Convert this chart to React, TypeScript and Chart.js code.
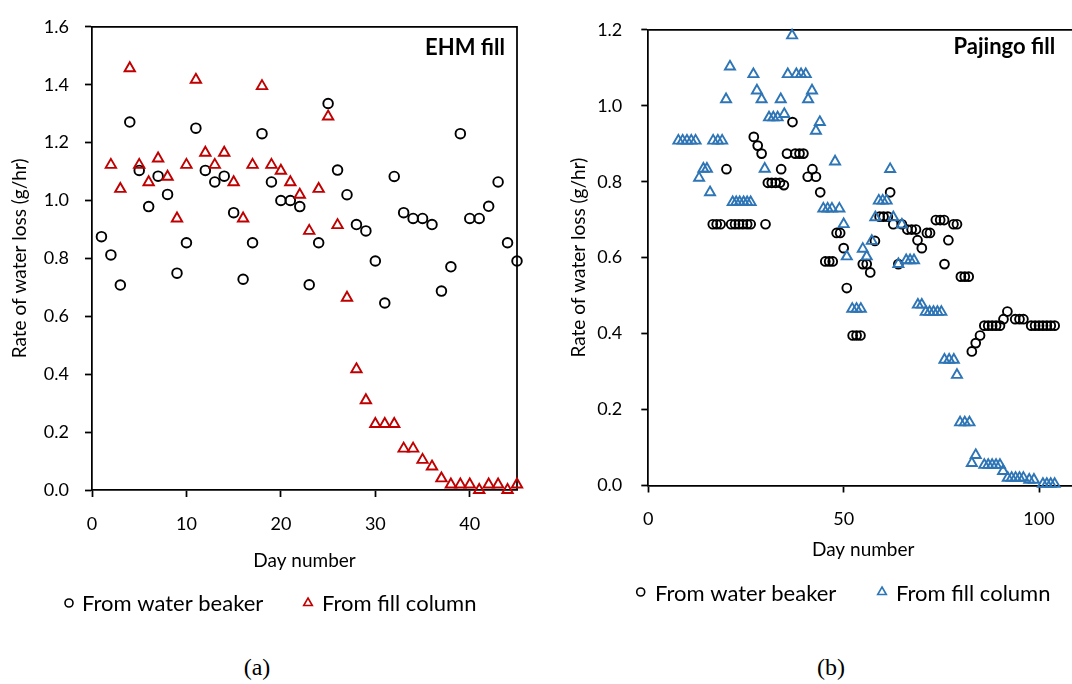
import React, { useEffect, useRef } from "react";
import { Chart, registerables } from "chart.js";
import { drawPoint } from "chart.js/helpers";

Chart.register(...registerables);

// ---------- Panel (a): EHM fill ----------
const ehmBeakerDay = [
  1, 2, 3, 4, 5, 6, 7, 8, 9, 10, 11, 12, 13, 14, 15, 16, 17, 18, 19, 20, 21, 22, 23,
  24, 25, 26, 27, 28, 29, 30, 31, 32, 33, 34, 35, 36, 37, 38, 39, 40, 41, 42, 43, 44, 45,
];
const ehmBeakerRate = [
  0.875, 0.812, 0.708, 1.271, 1.104, 0.979, 1.084, 1.021, 0.749, 0.854,
  1.25, 1.104, 1.064, 1.084, 0.958, 0.728, 0.854, 1.231, 1.064, 1.0,
  1.0, 0.979, 0.709, 0.854, 1.335, 1.105, 1.02, 0.917, 0.895, 0.791,
  0.646, 1.083, 0.958, 0.938, 0.938, 0.917, 0.687, 0.771, 1.231, 0.938,
  0.938, 0.98, 1.064, 0.854, 0.791,
];
const ehmFillDay = [
  2, 3, 4, 5, 6, 7, 8, 9, 10, 11, 12, 13, 14, 15, 16, 17, 18, 19, 20, 21, 22, 23, 24,
  25, 26, 27, 28, 29, 30, 31, 32, 33, 34, 35, 36, 37, 38, 39, 40, 41, 42, 43, 44, 45,
];
const ehmFillRate = [
  1.123, 1.04, 1.457, 1.123, 1.063, 1.145, 1.082, 0.938, 1.123, 1.417,
  1.165, 1.123, 1.165, 1.063, 0.938, 1.123, 1.395, 1.123, 1.103, 1.063,
  1.02, 0.895, 1.04, 1.29, 0.915, 0.664, 0.417, 0.31, 0.228, 0.228,
  0.228, 0.143, 0.143, 0.104, 0.081, 0.04, 0.019, 0.019, 0.019, 0.0,
  0.019, 0.019, 0.0, 0.019,
];
const ehmXTicks = [0, 10, 20, 30, 40];
const ehmYTicks = [0, 0.2, 0.4, 0.6, 0.8, 1.0, 1.2, 1.4, 1.6];

// ---------- Panel (b): Pajingo fill ----------
const pajBeakerDay = [
  16.5, 17.5, 18.5, 20.0, 21.2, 22.2, 23.2, 24.2, 25.3, 26.2,
  27.0, 28.0, 29.0, 30.0, 30.6, 31.6, 32.6, 33.7, 34.0, 34.7,
  35.5, 36.9, 37.6, 38.7, 39.7, 40.8, 42.0, 42.9, 44.0, 45.3,
  46.3, 47.2, 48.2, 49.1, 50.0, 50.8, 52.3, 53.3, 54.3, 54.9,
  55.9, 56.8, 58.0, 59.2, 60.2, 61.3, 61.9, 62.7, 64.0, 64.9,
  66.3, 67.4, 68.5, 68.9, 70.0, 71.3, 72.1, 73.6, 74.7, 75.7,
  75.8, 76.8, 78.1, 79.0, 80.0, 81.0, 82.0, 82.8, 83.8, 84.9,
  86.0, 87.0, 88.0, 89.0, 90.0, 90.9, 91.9, 93.9, 95.0, 96.0,
  98.0, 99.0, 100.0, 101.0, 102.0, 103.0, 104.0,
];
const pajBeakerRate = [
  0.688, 0.688, 0.688, 0.833, 0.688, 0.688, 0.688, 0.688, 0.688, 0.688,
  0.918, 0.895, 0.874, 0.688, 0.797, 0.797, 0.797, 0.797, 0.833, 0.791,
  0.874, 0.957, 0.874, 0.874, 0.874, 0.813, 0.833, 0.813, 0.772, 0.59,
  0.59, 0.59, 0.665, 0.665, 0.625, 0.52, 0.395, 0.395, 0.395, 0.583,
  0.583, 0.561, 0.644, 0.708, 0.708, 0.708, 0.772, 0.688, 0.583, 0.688,
  0.674, 0.674, 0.674, 0.646, 0.625, 0.665, 0.665, 0.699, 0.699, 0.699,
  0.583, 0.646, 0.688, 0.688, 0.55, 0.55, 0.55, 0.353, 0.375, 0.395,
  0.421, 0.421, 0.421, 0.421, 0.421, 0.438, 0.458, 0.438, 0.438, 0.438,
  0.421, 0.421, 0.421, 0.421, 0.421, 0.421, 0.421,
];
const pajFillDay = [
  7.7, 8.8, 9.9, 11.0, 12.1, 13.0, 14.1, 15.0, 15.8, 16.6,
  17.8, 18.9, 19.9, 20.9, 21.6, 22.5, 23.4, 24.4, 25.3, 26.2,
  26.9, 27.8, 29.0, 29.8, 30.9, 32.0, 33.1, 33.9, 34.8, 35.7,
  36.8, 37.9, 39.1, 40.3, 40.9, 41.9, 42.9, 43.9, 44.8, 45.9,
  47.0, 47.8, 48.9, 50.0, 50.8, 52.2, 53.3, 54.4, 54.9, 55.9,
  57.2, 58.1, 59.0, 60.0, 61.0, 61.9, 62.7, 64.0, 64.9, 66.0,
  67.0, 68.0, 69.0, 70.0, 71.0, 72.0, 73.0, 74.0, 75.0, 75.8,
  77.0, 78.2, 79.0, 79.8, 81.0, 82.2, 82.8, 83.8, 86.0, 87.0,
  88.0, 89.0, 90.0, 90.8, 92.0, 93.0, 94.0, 95.0, 96.0, 97.5,
  98.7, 101.0, 102.0, 103.0, 104.0,
];
const pajFillRate = [
  0.908, 0.908, 0.908, 0.908, 0.908, 0.81, 0.834, 0.834, 0.772, 0.908,
  0.908, 0.908, 1.017, 1.103, 0.746, 0.746, 0.746, 0.746, 0.746, 0.746,
  1.083, 1.04, 1.017, 0.834, 0.969, 0.969, 0.969, 1.017, 0.978, 1.083,
  1.185, 1.083, 1.083, 1.083, 1.017, 1.04, 0.934, 0.957, 0.729, 0.729,
  0.729, 0.853, 0.729, 0.688, 0.603, 0.465, 0.465, 0.465, 0.623, 0.603,
  0.644, 0.706, 0.75, 0.75, 0.75, 0.833, 0.706, 0.583, 0.687, 0.593,
  0.593, 0.593, 0.476, 0.476, 0.457, 0.457, 0.457, 0.457, 0.457, 0.331,
  0.331, 0.331, 0.291, 0.166, 0.166, 0.166, 0.059, 0.08, 0.054, 0.054,
  0.054, 0.054, 0.054, 0.038, 0.02, 0.02, 0.02, 0.02, 0.02, 0.015,
  0.015, 0.004, 0.004, 0.004, 0.004,
];
const pajXTicks = [0, 50, 100];
const pajYTicks = [0, 0.2, 0.4, 0.6, 0.8, 1.0, 1.2];

const seriesNames = ["From water beaker", "From fill column"];
const xTitleText = "Day number";
const yTitleText = "Rate of water loss (g/hr)";

const FONT = "Lato";
const AXIS_W = 1.75;
const MARKER_W = 1.9;

type PanelSpec = {
  title: string;
  beakerDay: number[];
  beakerRate: number[];
  fillDay: number[];
  fillRate: number[];
  fillColor: string;
  xMax: number;
  yMax: number;
  xTicks: number[];
  yTicks: number[];
  canvasLeft: number;
  canvasWidth: number;
  canvasHeight: number;
  padTop: number;
  padRight: number;
  yAxisWidth: number;
  xAxisHeight: number;
  yTickPad: number;
  xTickPad: number;
  yTitlePad: number;
  xTitlePad: number;
  circleR: number;
  triR: number;
  titleRightInset: number;
  titleBaseline: number;
  legendMarkerX: number[];
  legendMarkerR: number[];
  legendTextX: number[];
  legendMarkerY: number;
  legendBaseline: number;
};

// Draws the plot frame, the in-plot panel title and the legend row.
const panelDecor = {
  id: "panelDecor",
  beforeDatasetsDraw(chart: any) {
    const { ctx, chartArea } = chart;
    ctx.save();
    ctx.strokeStyle = "#000";
    ctx.lineWidth = AXIS_W;
    ctx.beginPath();
    ctx.moveTo(chartArea.left, chartArea.top);
    ctx.lineTo(chartArea.right, chartArea.top);
    ctx.lineTo(chartArea.right, chartArea.bottom);
    ctx.stroke();
    ctx.restore();
  },
  afterDraw(chart: any, _args: any, opts: any) {
    const { ctx, chartArea } = chart;
    ctx.save();
    ctx.fillStyle = "#000";
    ctx.font = `bold 22px ${FONT}`;
    ctx.textAlign = "right";
    ctx.textBaseline = "alphabetic";
    ctx.fillText(opts.title, chartArea.right - opts.titleRightInset, opts.titleBaseline);

    ctx.font = `22px ${FONT}`;
    ctx.textAlign = "left";
    chart.data.datasets.forEach((ds: any, i: number) => {
      ctx.save();
      ctx.strokeStyle = ds.pointBorderColor;
      ctx.fillStyle = "rgba(0,0,0,0)";
      ctx.lineWidth = 1.6;
      drawPoint(
        ctx,
        { radius: opts.legendMarkerR[i], pointStyle: ds.pointStyle, rotation: 0, borderWidth: 1.6 },
        opts.legendMarkerX[i],
        opts.legendMarkerY
      );
      ctx.restore();
      ctx.fillStyle = "#000";
      ctx.fillText(ds.label, opts.legendTextX[i], opts.legendBaseline);
    });
    ctx.restore();
  },
};

function buildConfig(p: PanelSpec): any {
  const tickFont = { family: FONT, size: 18 };
  const titleFont = { family: FONT, size: 19 };
  const gridOpts = {
    display: true,
    drawOnChartArea: false,
    drawTicks: true,
    tickLength: 7,
    tickWidth: AXIS_W,
    tickColor: "#000",
    color: "#000",
  };
  const border = { display: true, color: "#000", width: AXIS_W };
  return {
    type: "scatter",
    data: {
      datasets: [
        {
          label: seriesNames[0],
          data: p.beakerDay.map((d, i) => ({ x: d, y: p.beakerRate[i] })),
          pointStyle: "circle",
          pointRadius: p.circleR,
          pointHoverRadius: p.circleR,
          pointBorderWidth: MARKER_W,
          pointBorderColor: "#000",
          pointBackgroundColor: "rgba(0,0,0,0)",
          showLine: false,
          clip: false,
          order: 2,
        },
        {
          label: seriesNames[1],
          data: p.fillDay.map((d, i) => ({ x: d, y: p.fillRate[i] })),
          pointStyle: "triangle",
          pointRadius: p.triR,
          pointHoverRadius: p.triR,
          pointBorderWidth: MARKER_W,
          pointBorderColor: p.fillColor,
          pointBackgroundColor: "rgba(0,0,0,0)",
          showLine: false,
          clip: false,
          order: 1,
        },
      ],
    },
    options: {
      responsive: false,
      animation: false,
      devicePixelRatio: 1,
      events: [],
      layout: { padding: { top: p.padTop, right: p.padRight, bottom: 0, left: 0 } },
      plugins: {
        legend: { display: false },
        tooltip: { enabled: false },
        panelDecor: {
          title: p.title,
          titleRightInset: p.titleRightInset,
          titleBaseline: p.titleBaseline,
          legendMarkerX: p.legendMarkerX,
          legendMarkerR: p.legendMarkerR,
          legendTextX: p.legendTextX,
          legendMarkerY: p.legendMarkerY,
          legendBaseline: p.legendBaseline,
        },
      },
      scales: {
        x: {
          type: "linear",
          position: "bottom",
          min: 0,
          max: p.xMax,
          afterBuildTicks: (s: any) => {
            s.ticks = p.xTicks.map((v) => ({ value: v }));
          },
          afterFit: (s: any) => {
            s.height = p.xAxisHeight;
          },
          ticks: {
            color: "#000",
            font: tickFont,
            padding: p.xTickPad,
            maxRotation: 0,
            callback: (v: any) => String(v),
          },
          grid: gridOpts,
          border,
          title: {
            display: true,
            text: xTitleText,
            color: "#000",
            font: titleFont,
            padding: { top: 0, bottom: p.xTitlePad },
          },
        },
        y: {
          type: "linear",
          position: "left",
          min: 0,
          max: p.yMax,
          afterBuildTicks: (s: any) => {
            s.ticks = p.yTicks.map((v) => ({ value: v }));
          },
          afterFit: (s: any) => {
            s.width = p.yAxisWidth;
          },
          ticks: {
            color: "#000",
            font: tickFont,
            padding: p.yTickPad,
            callback: (v: any) => Number(v).toFixed(1),
          },
          grid: gridOpts,
          border,
          title: {
            display: true,
            text: yTitleText,
            color: "#000",
            font: titleFont,
            padding: { top: p.yTitlePad, bottom: 0 },
          },
        },
      },
    },
    plugins: [panelDecor],
  };
}

const panelA: PanelSpec = {
  title: "EHM fill",
  beakerDay: ehmBeakerDay,
  beakerRate: ehmBeakerRate,
  fillDay: ehmFillDay,
  fillRate: ehmFillRate,
  fillColor: "#C00000",
  xMax: 45,
  yMax: 1.6,
  xTicks: ehmXTicks,
  yTicks: ehmYTicks,
  canvasLeft: 0,
  canvasWidth: 540,
  canvasHeight: 640,
  padTop: 16,
  padRight: 23,
  yAxisWidth: 92,
  xAxisHeight: 150,
  yTickPad: 16,
  xTickPad: 16,
  yTitlePad: 8.6,
  xTitlePad: 67.6,
  circleR: 4.8,
  triR: 6.0,
  titleRightInset: 12,
  titleBaseline: 55,
  legendMarkerX: [69, 308],
  legendMarkerR: [4.0, 5.0],
  legendTextX: [82, 322],
  legendMarkerY: 603,
  legendBaseline: 611,
};

const panelB: PanelSpec = {
  title: "Pajingo fill",
  beakerDay: pajBeakerDay,
  beakerRate: pajBeakerRate,
  fillDay: pajFillDay,
  fillRate: pajFillRate,
  fillColor: "#2E75B6",
  xMax: 110,
  yMax: 1.2,
  xTicks: pajXTicks,
  yTicks: pajYTicks,
  canvasLeft: 540,
  canvasWidth: 606,
  canvasHeight: 640,
  padTop: 15.7,
  padRight: 67.9,
  yAxisWidth: 108.3,
  xAxisHeight: 154.5,
  yTickPad: 19,
  xTickPad: 16,
  yTitlePad: 27.6,
  xTitlePad: 78.6,
  circleR: 4.4,
  triR: 5.8,
  titleRightInset: 23,
  titleBaseline: 54,
  legendMarkerX: [100.7, 342],
  legendMarkerR: [4.0, 5.0],
  legendTextX: [115, 356],
  legendMarkerY: 592,
  legendBaseline: 601,
};

function ScatterPanel({ spec }: { spec: PanelSpec }) {
  const ref = useRef<HTMLCanvasElement | null>(null);
  useEffect(() => {
    if (!ref.current) return;
    const chart = new Chart(ref.current, buildConfig(spec));
    return () => chart.destroy();
  }, [spec]);
  return (
    <canvas
      ref={ref}
      width={spec.canvasWidth}
      height={spec.canvasHeight}
      style={{
        position: "absolute",
        left: spec.canvasLeft,
        top: 0,
        width: spec.canvasWidth,
        height: spec.canvasHeight,
      }}
    />
  );
}

const captionStyle: React.CSSProperties = {
  position: "absolute",
  top: 655,
  transform: "translateX(-50%)",
  fontFamily: "'Liberation Serif', 'Times New Roman', serif",
  fontSize: 24,
  lineHeight: "24px",
  color: "#000",
  whiteSpace: "nowrap",
};

export default function App() {
  return (
    <div
      style={{
        position: "fixed",
        left: 0,
        top: 0,
        width: 1072,
        height: 684,
        overflow: "hidden",
        background: "#fff",
      }}
    >
      <ScatterPanel spec={panelA} />
      <ScatterPanel spec={panelB} />
      <div style={{ ...captionStyle, left: 257 }}>(a)</div>
      <div style={{ ...captionStyle, left: 831 }}>(b)</div>
    </div>
  );
}
